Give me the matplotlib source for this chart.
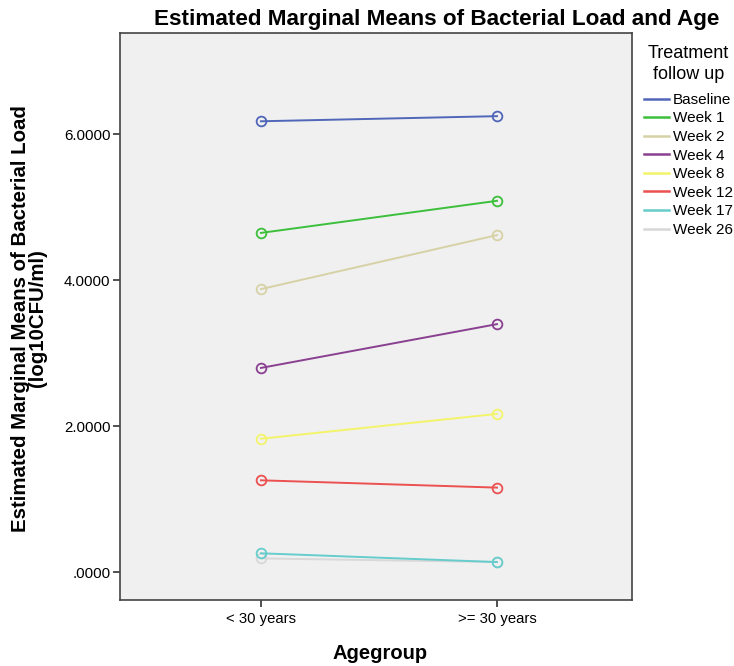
import numpy as np
import matplotlib
matplotlib.use('Agg')
from matplotlib import pyplot as plt
from matplotlib.lines import Line2D

plt.rcParams['font.family'] = ['Liberation Sans', 'DejaVu Sans']

# data
groups = ['< 30 years', '>= 30 years']
followups = ['Baseline', 'Week 1', 'Week 2', 'Week 4', 'Week 8', 'Week 12', 'Week 17', 'Week 26']
means = {
    'Baseline': [6.18, 6.25],
    'Week 1': [4.65, 5.09],
    'Week 2': [3.88, 4.62],
    'Week 4': [2.80, 3.40],
    'Week 8': [1.83, 2.17],
    'Week 12': [1.26, 1.16],
    'Week 17': [0.26, 0.14],
    'Week 26': [0.19, 0.14],
}
colors = ['#5066b8', '#3cc03c', '#d6d2a6', '#8a4090', '#f4f46a',
          '#ec5050', '#66cccc', '#d8d8d8']
yticks = [0, 2, 4, 6]
ytick_labels = ['.0000', '2.0000', '4.0000', '6.0000']

fig = plt.figure(figsize=(7.34, 6.66), dpi=100)
ax = fig.add_axes((0.1635, 0.0991, 0.6975, 0.8514))
ax.set_facecolor('#f0f0f0')

x = np.arange(len(groups))
# draw back to front so baseline ends on top like the original
for name, c in reversed(list(zip(followups, colors))):
    ax.plot(x, means[name], color=c, lw=1.4, marker='o', ms=7,
            mfc='none', mec=c, mew=1.3)

ax.set_xlim(-0.597, 1.572)
ax.set_ylim(-0.38, 7.39)
ax.set_xticks(x)
ax.set_xticklabels(groups, fontsize=10.7)
ax.set_yticks(yticks)
ax.set_yticklabels(ytick_labels, fontsize=10.8)
ax.tick_params(direction='out', length=5, width=1.2, color='#333333', pad=2)
ax.tick_params(axis='x', pad=4)
for s in ax.spines.values():
    s.set_color('#444444')
    s.set_linewidth(1.2)

fig.text(0.595, 0.971, 'Estimated Marginal Means of Bacterial Load and Age',
         fontsize=16.2, fontweight='bold', ha='center', va='center')
ax.set_xlabel('Agegroup', fontsize=14.5, fontweight='bold')
ax.xaxis.set_label_coords(0.508, -0.078)
ax.set_ylabel('Estimated Marginal Means of Bacterial Load\n(log10CFU/ml)',
              fontsize=14.7, fontweight='bold', linespacing=0.85)
ax.yaxis.set_label_coords(-0.143, 0.497)

handles = [Line2D([], [], color=c, lw=1.8) for c in colors]
leg = fig.legend(handles, followups, loc='upper left',
                 bbox_to_anchor=(0.877, 0.932), frameon=False,
                 fontsize=11, title='Treatment\nfollow up', title_fontsize=13,
                 handlelength=1.65, handletextpad=0.25, labelspacing=0.3,
                 borderaxespad=0, borderpad=0)
leg.get_title().set_linespacing(1.3)
leg.get_title().set_multialignment('center')
leg._legend_box.sep = 7

fig.savefig('out.png', dpi=100)
